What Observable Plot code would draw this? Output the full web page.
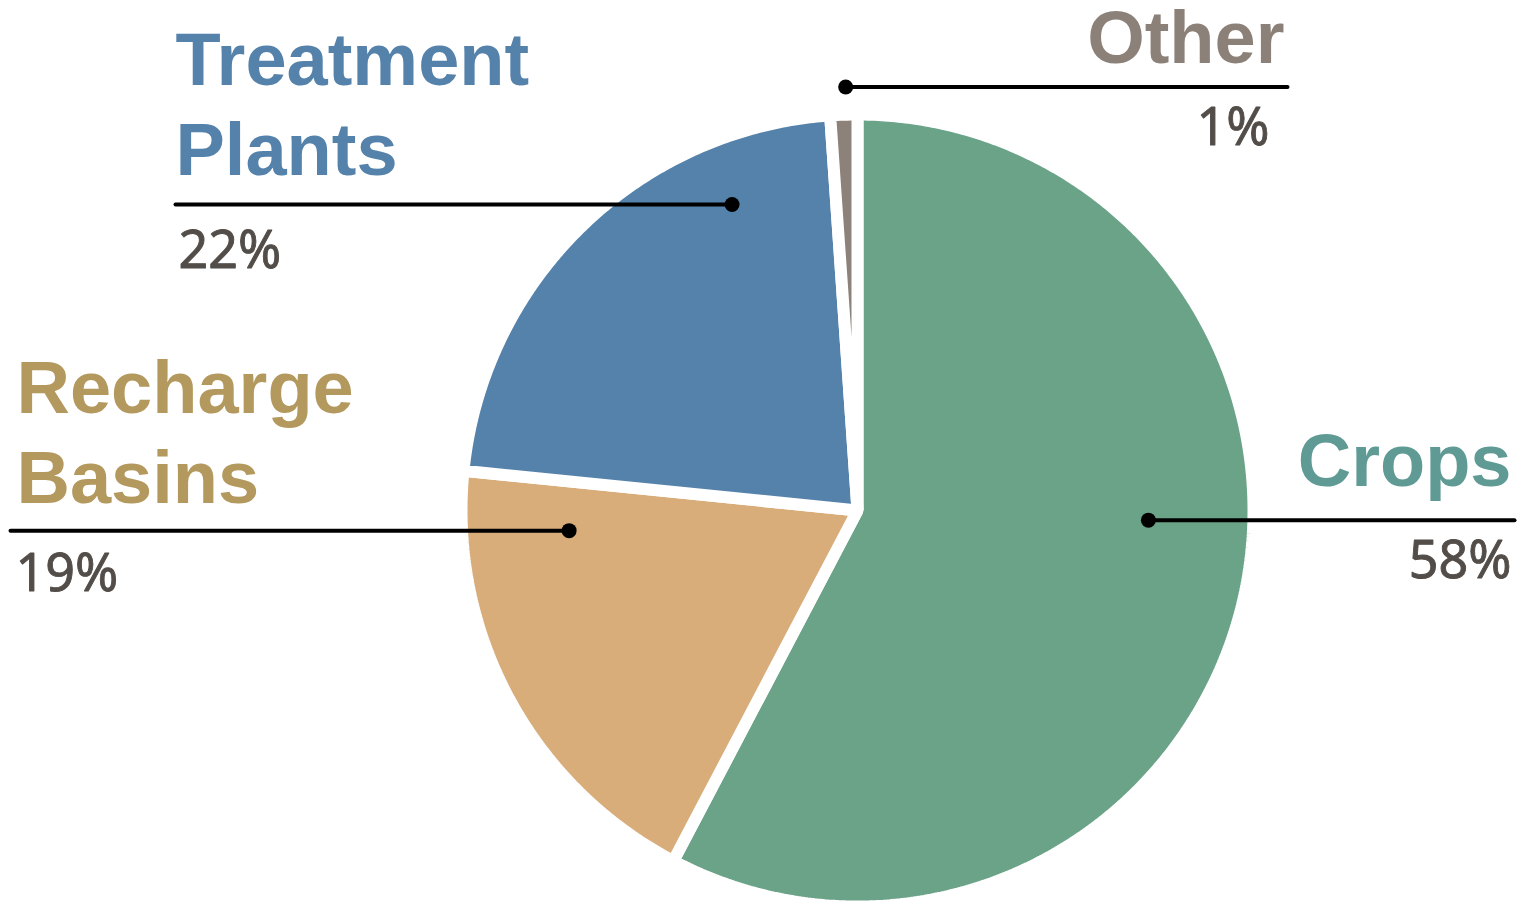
<!DOCTYPE html>
<html>
<head>
<meta charset="utf-8">
<script src="https://cdn.jsdelivr.net/npm/d3@7"></script>
<script src="https://cdn.jsdelivr.net/npm/@observablehq/plot@0.6"></script>
<style>
  html, body { margin: 0; padding: 0; background: #ffffff; }
  #chart svg { display: block; }
</style>
</head>
<body>
<div id="chart"></div>
<script>
// ---- data ----
const categories = ["Crops", "Recharge Basins", "Treatment Plants", "Other"];
const shares = [57.7, 18.9, 22.3, 1.1];          // slice sizes
const nameLabels = ["Crops", "Recharge\nBasins", "Treatment\nPlants", "Other"];
const pctLabels = ["58%", "19%", "22%", "1%"];
const sliceColors = ["#6ba388", "#d8ad7a", "#5582ab", "#8c8279"];
const labelColors = ["#5f9b94", "#b4995e", "#5582ab", "#8b8178"];

// ---- layout ----
const W = 1518, H = 902, CX = 857, CY = 510, R = 396;
const anchorT = [0.4424, 0.8566, 0.7716, 0.596]; // fraction of slice angle for leader dot
const anchorR = [0.735, 0.73, 0.835, 1.07];      // fraction of radius for leader dot
const lineEnd = [1514, 10, 175, 1287];           // x where leader line ends
const sideRight = [true, false, false, true];    // label aligned to right end?
const nameGap = [34, 28, 30, 24];                // baseline of name above line
const pctGap = [58, 60, 63, 58];                 // baseline of pct below line
const nameShift = [0, 3, -3, 0];
const pctShift = [0, 2, 0, -15];

// ---- geometry from data ----
const pie = d3.pie().sort(null).value(d => d)(shares);
const slicePts = [];
pie.forEach((p, i) => {
  const a0 = p.startAngle, a1 = p.endAngle;
  const n = Math.max(4, Math.ceil((a1 - a0) / (Math.PI / 360)));
  slicePts.push({cat: categories[i], color: sliceColors[i], x: CX, y: CY});
  for (let k = 0; k <= n; k++) {
    const a = a0 + (a1 - a0) * k / n;
    slicePts.push({cat: categories[i], color: sliceColors[i], x: CX + R * Math.sin(a), y: CY - R * Math.cos(a)});
  }
});

const labels = pie.map((p, i) => {
  const a = p.startAngle + (p.endAngle - p.startAngle) * anchorT[i];
  const r = R * anchorR[i];
  const dx = CX + r * Math.sin(a), dy = CY - r * Math.cos(a);
  const pad = sideRight[i] ? -3 : 3;
  return {
    cat: categories[i], name: nameLabels[i], pct: pctLabels[i],
    dotX: dx, dotY: dy, endX: lineEnd[i],
    textX: lineEnd[i] + pad + nameShift[i], anchor: sideRight[i] ? "end" : "start",
    nameY: dy - nameGap[i], pctY: dy + pctGap[i], pctX: lineEnd[i] + pad + pctShift[i],
    color: labelColors[i]
  };
});

const chart = Plot.plot({
  width: W,
  height: H,
  margin: 0,
  x: {domain: [0, W], range: [0, W], axis: null},
  y: {domain: [0, H], range: [0, H], axis: null},
  color: {type: "identity"},
  style: {background: "#ffffff", overflow: "visible"},
  marks: [
    Plot.line(slicePts, {
      x: "x", y: "y", z: "cat", fill: "color",
      stroke: "#ffffff", strokeWidth: 12, strokeLinejoin: "miter",
      curve: "linear-closed"
    }),
    Plot.link(labels, {
      x1: "dotX", y1: "dotY", x2: "endX", y2: "dotY",
      stroke: "#000000", strokeWidth: 4, strokeLinecap: "round"
    }),
    Plot.dot(labels, {x: "dotX", y: "dotY", r: 7.5, fill: "#000000", stroke: "none"}),
    ...labels.map(l => Plot.text([l], {
      x: "textX", y: "nameY", text: "name", fill: l.color,
      textAnchor: l.anchor, lineAnchor: "bottom", lineHeight: 1.21,
      fontFamily: "'Liberation Sans', Arial, sans-serif", fontWeight: "bold", fontSize: 74
    })),
    ...labels.map(l => Plot.text([l], {
      x: "pctX", y: "pctY", text: "pct", fill: "#524d48",
      stroke: "#524d48", strokeWidth: 0.9,
      textAnchor: l.anchor, lineAnchor: "bottom",
      fontFamily: "'Noto Sans', 'Open Sans', sans-serif", fontSize: 52
    }))
  ]
});
document.getElementById("chart").appendChild(chart);
</script>
</body>
</html>
